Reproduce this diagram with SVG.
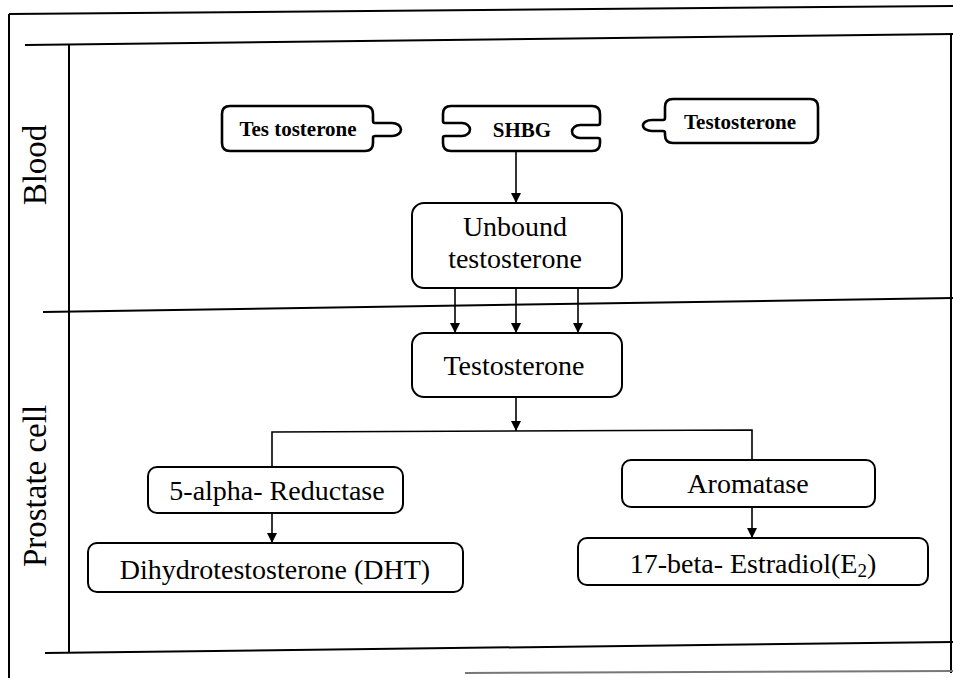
<svg xmlns="http://www.w3.org/2000/svg" width="953" height="678" viewBox="0 0 953 678">
<defs>
<style>
.frame{stroke:#000;stroke-width:2;fill:none}
.box{fill:#fff;stroke:#000;stroke-width:2}
.pz{fill:#fff;stroke:#000;stroke-width:2.6}
.t{font-family:"Liberation Serif","Times New Roman",serif;font-size:28px;fill:#000;text-anchor:middle}
.b{font-family:"Liberation Serif","Times New Roman",serif;font-size:21px;font-weight:bold;fill:#000;text-anchor:middle}
.lab{font-family:"Liberation Serif","Times New Roman",serif;font-size:33px;fill:#000;text-anchor:middle}
.c{stroke:#000;stroke-width:1.6;fill:none}
</style>
<marker id="ah" viewBox="0 0 10 10" refX="10" refY="5" markerWidth="10" markerHeight="10" markerUnits="userSpaceOnUse" orient="auto">
<path d="M0,0 L10,5 L0,10 Z" fill="#000"/>
</marker>
</defs>
<rect width="953" height="678" fill="#fff"/>
<g id="frame">
<line class="frame" x1="9" y1="14" x2="953" y2="6"/>
<line class="frame" x1="9" y1="14" x2="9" y2="678"/>
<line class="frame" x1="25" y1="45" x2="953" y2="34"/>
<line class="frame" x1="69" y1="45" x2="69" y2="653"/>
<line class="frame" x1="951" y1="34" x2="951" y2="673"/>
<line class="frame" x1="43" y1="312" x2="953" y2="298"/>
<line class="frame" x1="45" y1="653" x2="953" y2="642"/>
<line x1="465" y1="673" x2="953" y2="671" stroke="#777" stroke-width="2"/>
<text class="lab" transform="translate(46,165) rotate(-90)">Blood</text>
<text class="lab" transform="translate(46,486) rotate(-90)">Prostate cell</text>
</g>
<g id="connectors">
<line class="c" x1="516" y1="152" x2="516" y2="203" marker-end="url(#ah)"/>
<line class="c" x1="455" y1="288" x2="455" y2="333" marker-end="url(#ah)"/>
<line class="c" x1="516" y1="288" x2="516" y2="333" marker-end="url(#ah)"/>
<line class="c" x1="578" y1="288" x2="578" y2="333" marker-end="url(#ah)"/>
<line class="c" x1="516" y1="397" x2="516" y2="431" marker-end="url(#ah)"/>
<polyline class="c" points="272,467 272,432 752,430 752,460"/>
<line class="c" x1="272" y1="513" x2="272" y2="543" marker-end="url(#ah)"/>
<line class="c" x1="752" y1="507" x2="752" y2="538" marker-end="url(#ah)"/>
</g>
<g id="tes-left">
<path class="pz" d="M230,106 H365 Q373,106 373,114 V121 Q373,123 375,123 H392 A9,6.5 0 0 1 392,136 H375 Q373,136 373,138 V143 Q373,151 365,151 H230 Q222,151 222,143 V114 Q222,106 230,106 Z"/>
<text class="b" x="298" y="136">Tes tosterone</text>
</g>
<g id="shbg">
<path class="pz" d="M451,106 H592 Q600,106 600,114 V123 Q600,125 598,125 H580 A8,6.5 0 0 0 580,138 H598 Q600,138 600,140 V143 Q600,151 592,151 H451 Q443,151 443,143 V138 Q443,136 445,136 H462 A8,6.5 0 0 0 462,123 H445 Q443,123 443,121 V114 Q443,106 451,106 Z"/>
<text class="b" x="522" y="137">SHBG</text>
</g>
<g id="tes-right">
<path class="pz" d="M673,99 H810 Q818,99 818,107 V135 Q818,143 810,143 H673 Q665,143 665,135 V133 Q665,131 663,131 H652 A9,5.5 0 0 1 652,120 H663 Q665,120 665,118 V107 Q665,99 673,99 Z"/>
<text class="b" x="740" y="129">Testosterone</text>
</g>
<g id="unbound">
<rect class="box" x="412" y="203" width="210" height="85" rx="12"/>
<text class="t" x="515" y="236">Unbound</text>
<text class="t" x="515" y="268">testosterone</text>
</g>
<g id="testosterone">
<rect class="box" x="412" y="333" width="210" height="64" rx="12"/>
<text class="t" x="514" y="375">Testosterone</text>
</g>
<g id="reductase">
<rect class="box" x="148" y="467" width="255" height="46" rx="9"/>
<text class="t" x="277" y="500">5-alpha- Reductase</text>
</g>
<g id="dht">
<rect class="box" x="88" y="543" width="375" height="49" rx="9"/>
<text class="t" x="275" y="579">Dihydrotestosterone (DHT)</text>
</g>
<g id="aromatase">
<rect class="box" x="622" y="460" width="253" height="47" rx="9"/>
<text class="t" x="748" y="493">Aromatase</text>
</g>
<g id="estradiol">
<rect class="box" x="578" y="538" width="350" height="47" rx="9"/>
<text class="t" x="753" y="573">17-beta- Estradiol(E<tspan font-size="19" dy="4">2</tspan><tspan dy="-4">)</tspan></text>
</g>
</svg>
